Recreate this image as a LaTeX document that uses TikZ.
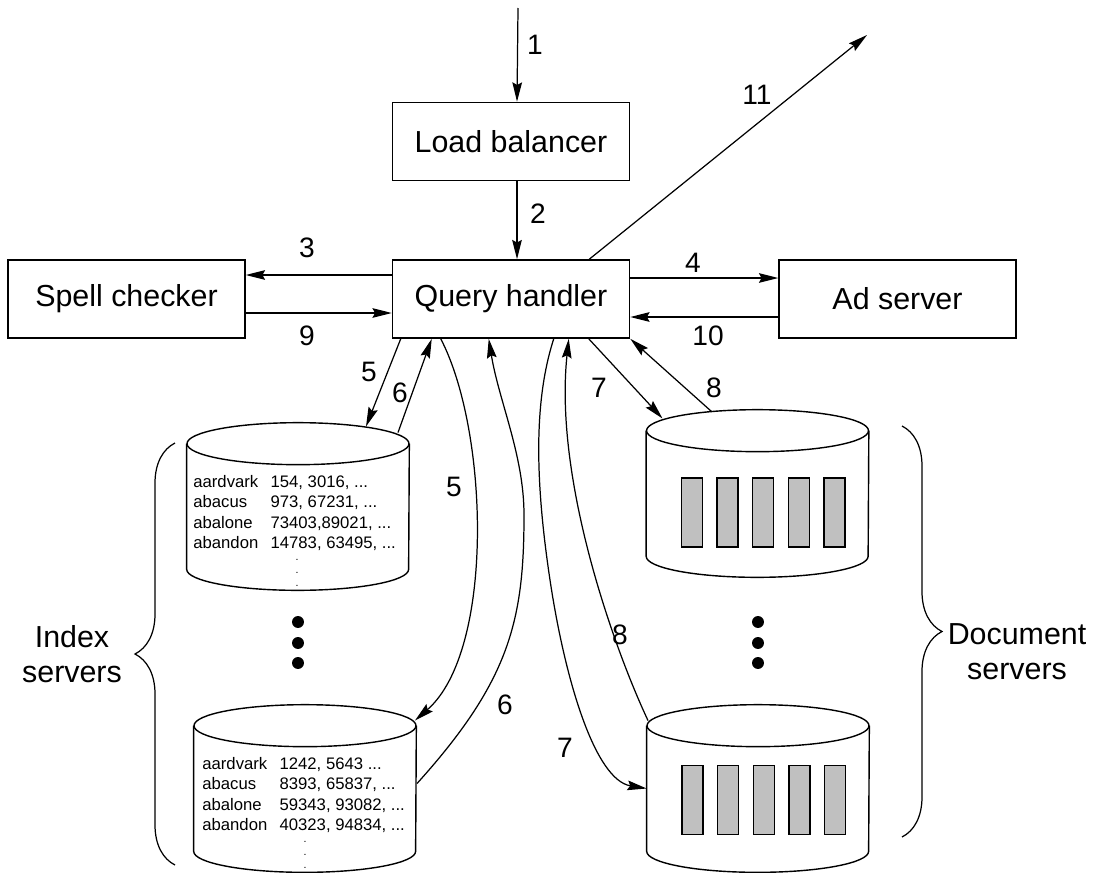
\documentclass[tikz,border=0pt]{standalone}
\usepackage{fontspec}
\setmainfont{Liberation Sans}
\usetikzlibrary{positioning,arrows.meta,calc,decorations.pathreplacing}
\definecolor{SlotGray}{HTML}{C0C0C0}

\begin{document}
\begin{tikzpicture}[x=0.02cm, y=-0.02cm, node distance=1.56cm,
  box/.style={draw, line width=0.9pt, minimum width=4.74cm, minimum height=1.56cm, inner sep=0pt, font=\fontsize{17.3}{20}\selectfont},
  disk/.style={rectangle, minimum width=4.44cm, minimum height=3.34cm, inner sep=0pt},
  num/.style={inner sep=0pt, font=\fontsize{16}{18}\selectfont},
  conn/.style={-{Stealth[length=11pt,width=5.5pt,inset=1.5pt]}, line width=0.7pt},
  idx/.style={anchor=base west, inner sep=0pt, font=\fontsize{9.5}{11.75}\selectfont},
  vdots/.style={inner sep=0pt, align=center, font=\fontsize{6}{7.2}\selectfont}]
  \useasboundingbox (0,0) rectangle (1101,872);

  % boxes
  \node[box] (qh) at (511,299) {Query handler};
  \node[box, above=of qh] (lb) {Load balancer};
  \node[box, left=2.92cm of qh] (sc) {Spell checker};
  \node[box, right=2.96cm of qh] (ad) {Ad server};

  % servers
  \node[disk] (ix1) at (298,506.5) {};
  \node[disk] (ix2) at (305,788.5) {};
  \node[disk] (dc1) at (757.5,493.5) {};
  \node[disk] (dc2) at (758,788.5) {};
  \foreach \d in {ix1,ix2,dc1,dc2} {
    \draw[line width=0.8pt] ($(\d.north west)+(0,21)$) -- ($(\d.south west)+(0,-21)$)
      arc[start angle=180, end angle=360, x radius=2.22cm, y radius=0.42cm]
      -- ($(\d.north east)+(0,21)$);
    \draw[line width=0.8pt] ($(\d.north)+(0,21)$) ellipse[x radius=2.22cm, y radius=0.42cm];
  }

  \node[idx] (ix1txt) at ($(ix1.center)+(-105,-19.5)$) {\begin{tabular}[t]{@{}l@{\hspace{7pt}}l@{}}
    aardvark & 154, 3016, ...\\
    abacus & 973, 67231, ...\\
    abalone & 73403,89021, ...\\
    abandon & 14783, 63495, ...
  \end{tabular}};
  \node[vdots] (ix1dots) at (297,573) {.\\.\\.};
  \node[idx] (ix2txt) at ($(ix2.center)+(-103,-19.5)$) {\begin{tabular}[t]{@{}l@{\hspace{7pt}}l@{}}
    aardvark & 1242, 5643 ...\\
    abacus & 8393, 65837, ...\\
    abalone & 59343, 93082, ...\\
    abandon & 40323, 94834, ...
  \end{tabular}};
  \node[vdots] (ix2dots) at (305,855) {.\\.\\.};

  \foreach \k in {0,...,4} {
    \draw[fill=SlotGray, line width=0.8pt] ($(dc1.center)+({-65.5+35.6*\k},19)$) +(-10.5,-34.5) rectangle +(10.5,34.5);
    \draw[fill=SlotGray, line width=0.8pt] ($(dc2.center)+({-65.5+35.6*\k},11.5)$) +(-10.5,-34.5) rectangle +(10.5,34.5);
  }

  \foreach \y in {622,643,663} {
    \fill (298,\y) circle (3.4pt);
    \fill (758,\y) circle (3.4pt);
  }

  % braces and group labels
  \draw[line width=0.7pt, decorate, decoration={brace, amplitude=0.8cm}] (175,865) -- (175,443);
  \draw[line width=0.7pt, decorate, decoration={brace, amplitude=0.8cm}] (902,426) -- (902,837);
  \node[align=center, font=\fontsize{17.3}{20}\selectfont] (idxlbl) at (72,654) {Index\\servers};
  \node[align=center, font=\fontsize{17.3}{20}\selectfont] (doclbl) at (1017,652) {Document\\servers};

  % connectors
  \coordinate (user) at (518,8);
  \coordinate (reply) at (867,35);
  \draw[conn] (user) -- ($(lb.north)+(6,0)$);
  \draw[conn] ($(lb.south)+(6,0)$) -- ($(qh.north)+(6,0)$);
  \draw[conn] ($(qh.north east)+(-41,0)$) -- (reply);
  \draw[conn] ($(qh.west)+(0,-24)$) -- ($(sc.east)+(0,-24)$);
  \draw[conn] ($(sc.east)+(0,14)$) -- ($(qh.west)+(0,14)$);
  \draw[conn] ($(qh.east)+(0,-21)$) -- ($(ad.west)+(0,-21)$);
  \draw[conn] ($(ad.west)+(0,18)$) -- ($(qh.east)+(0,18)$);

  \draw[conn] ($(qh.south west)+(9,0)$) -- ($(ix1.center)+(68,-80)$);
  \draw[conn] ($(ix1.center)+(100,-74)$) -- ($(qh.south west)+(40,0)$);
  \draw[conn] ($(qh.south west)+(49,0)$) .. controls +(48,92) and +(80,-70) .. ($(ix2.center)+(110,-68)$);
  \draw[conn] ($(ix2.center)+(112,-5)$) .. controls +(93,-103) and (524,620) .. (524,515)
    .. controls (524,455) and +(10,62) .. ($(qh.south west)+(97,0)$);
  \draw[conn] ($(qh.south west)+(162,0)$) .. controls +(-20,62) and (535,480) .. (550,580)
    .. controls (565,680) and (595,780) .. (dc2.west);
  \draw[conn] ($(dc2.center)+(-110,-68)$) .. controls +(-33,-70) and +(-15,142) .. ($(qh.south west)+(177,0)$);
  \draw[conn] ($(qh.south west)+(197,0)$) -- ($(dc1.center)+(-95,-75)$);
  \draw[conn] ($(dc1.center)+(-46,-82)$) -- (qh.south east);

  % step numbers
  \node[num] (n1) at (535,45) {1};
  \node[num] (n2) at (538,214) {2};
  \node[num] (n3) at (307,248) {3};
  \node[num] (n4) at (693,263) {4};
  \node[num] (n9) at (307,336) {9};
  \node[num] (n10) at (708,336) {10};
  \node[num] (n11) at (757,95) {11};
  \node[num] (n5a) at (369,372) {5};
  \node[num] (n6a) at (400,393) {6};
  \node[num] (n7a) at (599,388) {7};
  \node[num] (n8a) at (714,388) {8};
  \node[num] (n5b) at (454,487) {5};
  \node[num] (n6b) at (505,705) {6};
  \node[num] (n7b) at (565,748) {7};
  \node[num] (n8b) at (620,635) {8};
\end{tikzpicture}
\end{document}
